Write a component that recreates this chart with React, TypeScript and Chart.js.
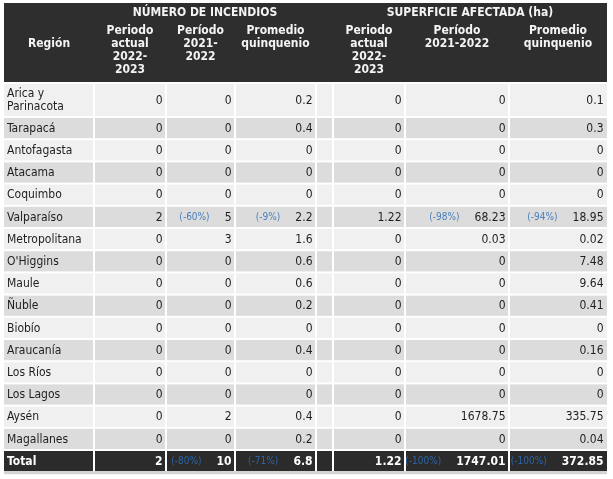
import React, { useEffect, useRef } from "react";
import { Chart, registerables } from "chart.js";

Chart.register(...registerables);

// ---------- DATA ----------
const regions = [
  "Arica y Parinacota", "Tarapacá", "Antofagasta", "Atacama", "Coquimbo",
  "Valparaíso", "Metropolitana", "O'Higgins", "Maule", "Ñuble", "Biobío",
  "Araucanía", "Los Ríos", "Los Lagos", "Aysén", "Magallanes",
];
const firesCurrent = [0, 0, 0, 0, 0, 2, 0, 0, 0, 0, 0, 0, 0, 0, 0, 0];
const firesPrev = [0, 0, 0, 0, 0, 5, 3, 0, 0, 0, 0, 0, 0, 0, 2, 0];
const firesAvg = [0.2, 0.4, 0, 0, 0, 2.2, 1.6, 0.6, 0.6, 0.2, 0, 0.4, 0, 0, 0.4, 0.2];
const areaCurrent = [0, 0, 0, 0, 0, 1.22, 0, 0, 0, 0, 0, 0, 0, 0, 0, 0];
const areaPrev = [0, 0, 0, 0, 0, 68.23, 0.03, 0, 0, 0, 0, 0, 0, 0, 1678.75, 0];
const areaAvg = [0.1, 0.3, 0, 0, 0, 18.95, 0.02, 7.48, 9.64, 0.41, 0, 0.16, 0, 0, 335.75, 0.04];
// percentage changes shown next to a value (null = none)
const firesPrevPct = [null, null, null, null, null, -60, null, null, null, null, null, null, null, null, null, null];
const firesAvgPct = [null, null, null, null, null, -9, null, null, null, null, null, null, null, null, null, null];
const areaPrevPct = [null, null, null, null, null, -98, null, null, null, null, null, null, null, null, null, null];
const areaAvgPct = [null, null, null, null, null, -94, null, null, null, null, null, null, null, null, null, null];
const totalLabel = "Total";
const totalValues = [2, 10, 6.8, 1.22, 1747.01, 372.85];
const totalPct = [null, -80, -71, null, -100, -100];
const groupTitles = ["NÚMERO DE INCENDIOS", "SUPERFICIE AFECTADA (ha)"];
const regionHeader = "Región";
const columnHeaders = [
  ["Periodo", "actual", "2022-", "2023"],
  ["Período", "2021-", "2022"],
  ["Promedio", "quinquenio"],
  ["Periodo", "actual", "2022-", "2023"],
  ["Período", "2021-2022"],
  ["Promedio", "quinquenio"],
];

// ---------- LAYOUT / STYLE ----------
const FONT = '"DejaVu Sans Condensed", "DejaVu Sans", sans-serif';
const W = 613;
const H = 479;
// column boundaries in x-scale units (0..603)
const COLS = [0, 90, 162, 231, 312, 329, 401, 505, 603];
const DATA_COLS = [1, 2, 3, 5, 6, 7]; // cell indexes holding numbers
const HEADER_TOP = 3;
const BODY_TOP = 84;
const LINE_H = 13;

function wrap(ctx: CanvasRenderingContext2D, text: string, maxW: number): string[] {
  const words = text.split(" ");
  const lines: string[] = [];
  let cur = "";
  for (const w of words) {
    const t = cur ? cur + " " + w : w;
    if (cur && ctx.measureText(t).width > maxW) {
      lines.push(cur);
      cur = w;
    } else cur = t;
  }
  if (cur) lines.push(cur);
  return lines;
}

function fmt(v: number): string {
  return String(v);
}

export default function App() {
  const ref = useRef<HTMLCanvasElement>(null);

  useEffect(() => {
    const canvas = ref.current!;
    const mctx = canvas.getContext("2d")!;
    mctx.font = `12px ${FONT}`;
    const regionLines = regions.map((r) => wrap(mctx, r, COLS[1] - 7));
    const allLines = [...regionLines, [totalLabel]];
    const heights = allLines.map((l) => 22.2 + (l.length - 1) * 11.8);
    const starts: number[] = [];
    let acc = 0;
    heights.forEach((h) => {
      starts.push(acc);
      acc += h;
    });
    const totalUnits = acc;

    const rowsVals = regions.map((_, i) => [
      firesCurrent[i], firesPrev[i], firesAvg[i], areaCurrent[i], areaPrev[i], areaAvg[i],
    ]);
    const rowsPct = regions.map((_, i) => [
      null, firesPrevPct[i], firesAvgPct[i], null, areaPrevPct[i], areaAvgPct[i],
    ]);

    const tablePlugin = {
      id: "tablePlugin",
      afterDraw(chart: any) {
        const ctx: CanvasRenderingContext2D = chart.ctx;
        const xs = chart.scales.x;
        const ys = chart.scales.y;
        const X = (u: number) => xs.getPixelForValue(u);
        const Y = (u: number) => ys.getPixelForValue(u);
        ctx.save();

        // header
        ctx.fillStyle = "#2e2e2e";
        ctx.fillRect(X(0), HEADER_TOP, X(COLS[8]) - X(0), BODY_TOP - 2 - HEADER_TOP);
        ctx.fillStyle = "#f4f4f4";
        ctx.font = `bold 12px ${FONT}`;
        ctx.textAlign = "center";
        ctx.textBaseline = "middle";
        ctx.fillText(regionHeader, (X(COLS[0]) + X(COLS[1])) / 2, (HEADER_TOP + BODY_TOP - 2) / 2 + 1);
        ctx.fillText(groupTitles[0], (X(COLS[1]) + X(COLS[4])) / 2, 13);
        ctx.fillText(groupTitles[1], (X(COLS[5]) + X(COLS[8])) / 2, 13);
        DATA_COLS.forEach((c, k) => {
          const cx = (X(COLS[c - 1 + (c > 4 ? 0 : 0)]) + X(COLS[c])) / 2;
          const left = c >= 5 ? COLS[c] : COLS[c];
          const right = COLS[c + 1];
          const center = (X(left) + X(right)) / 2;
          columnHeaders[k].forEach((ln, j) => ctx.fillText(ln, center, 31 + j * LINE_H));
          void cx;
        });

        // body rows
        allLines.forEach((lines, i) => {
          const isTotal = i === allLines.length - 1;
          const top = Y(starts[i]);
          const bot = Y(starts[i] + heights[i]) - 2;
          const bg = isTotal ? "#2b2b2b" : i % 2 === 0 ? "#f0f0f0" : "#dcdcdc";
          for (let c = 0; c < COLS.length - 1; c++) {
            const l = X(COLS[c]) + (c > 0 ? 1 : 0);
            const r = c < COLS.length - 2 ? X(COLS[c + 1]) - 1 : X(COLS[c + 1]);
            ctx.fillStyle = bg;
            ctx.fillRect(l, top, r - l, bot - top);
          }
          const mid = (top + bot) / 2 + 0.5;
          ctx.textBaseline = "middle";
          ctx.textAlign = "left";
          ctx.fillStyle = isTotal ? "#ffffff" : "#1e1e1e";
          ctx.font = `${isTotal ? "bold " : ""}12px ${FONT}`;
          lines.forEach((ln, j) => {
            ctx.fillText(ln, X(COLS[0]) + 3, mid + (j - (lines.length - 1) / 2) * LINE_H);
          });
          const vals = isTotal ? totalValues : rowsVals[i];
          const pcts = isTotal ? totalPct : rowsPct[i];
          DATA_COLS.forEach((c, k) => {
            const rx = X(COLS[c + 1]) - 3.5;
            const txt = fmt(vals[k]);
            ctx.font = `${isTotal ? "bold " : ""}12px ${FONT}`;
            ctx.textAlign = "right";
            ctx.fillStyle = isTotal ? "#ffffff" : "#1e1e1e";
            ctx.fillText(txt, rx, mid);
            const p = pcts[k];
            if (p !== null && p !== undefined) {
              const w = ctx.measureText(txt).width;
              ctx.font = `10px ${FONT}`;
              ctx.fillStyle = isTotal ? "#2d64a6" : "#4a80bd";
              ctx.fillText(`(${p}%)`, rx - w - 15, mid);
            }
          });
          if (isTotal) {
            ctx.fillStyle = "#d4d4d4";
            ctx.fillRect(X(0), bot, X(COLS[8]) - X(0), 3);
          }
        });
        ctx.restore();
      },
    };

    const chart = new Chart(canvas, {
      type: "scatter",
      data: { datasets: [] },
      options: {
        responsive: false,
        animation: false,
        devicePixelRatio: 1,
        layout: {
          padding: { left: 4, right: W - 4 - COLS[8], top: BODY_TOP, bottom: H - BODY_TOP - totalUnits },
        },
        plugins: { legend: { display: false }, tooltip: { enabled: false } },
        scales: {
          x: { type: "linear", min: 0, max: COLS[8], display: false },
          y: { type: "linear", min: 0, max: totalUnits, reverse: true, display: false },
        },
      },
      plugins: [tablePlugin],
    });
    return () => chart.destroy();
  }, []);

  return (
    <div style={{ position: "fixed", left: 0, top: 0, background: "#ffffff" }}>
      <canvas ref={ref} width={W} height={H} style={{ display: "block" }} />
    </div>
  );
}
